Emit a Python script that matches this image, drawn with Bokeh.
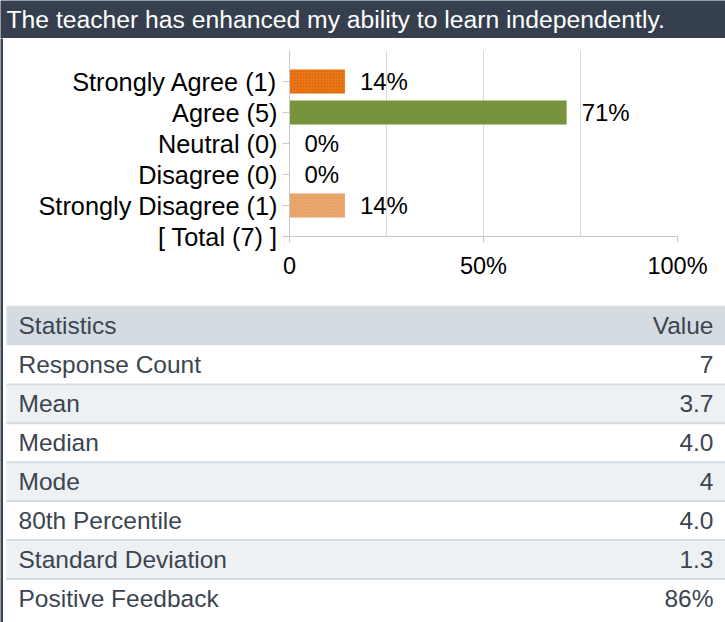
from bokeh.plotting import figure
from bokeh.layouts import column, row
from bokeh.models import Range1d, FixedTicker, ColumnDataSource
from bokeh.embed import file_html
from bokeh.resources import INLINE
from bokeh.core.properties import value

# ---------------- data ----------------
title_text = "The teacher has enhanced my ability to learn independently."
categories = ["Strongly Agree", "Agree", "Neutral", "Disagree", "Strongly Disagree"]
counts = [1, 5, 0, 0, 1]
total_count = 7
bar_colors = ["#e46c0a", "#77933c", "#e46c0a", "#e46c0a", "#e8a268"]
bar_hatch = ["dot", " ", " ", " ", "dot"]
hatch_colors = ["#f3a25e", "#77933c", "#e46c0a", "#e46c0a", "#f0b888"]
x_ticks = [0, 50, 100]
x_tick_labels = ["0", "50%", "100%"]
grid_ticks = [0, 25, 50, 75, 100]
stat_names = ["Response Count", "Mean", "Median", "Mode", "80th Percentile",
              "Standard Deviation", "Positive Feedback"]
stat_values = ["7", "3.7", "4.0", "4", "4.0", "1.3", "86%"]
stat_header = ["Statistics", "Value"]

FONT = value("Liberation Sans")
DARK = "#353f4e"

# ---------------- title bar ----------------
tp = figure(width=725, height=38, x_range=Range1d(0, 725), y_range=Range1d(0, 38),
            x_axis_type=None, y_axis_type=None, output_backend="svg",
            toolbar_location=None, min_border=0)
tp.frame_align = False
tp.background_fill_color = DARK
tp.border_fill_color = DARK
tp.outline_line_color = None
tp.grid.visible = False
tp.text(x=[6], y=[19], text=[title_text], text_color="white",
        text_font=FONT, text_font_size="24.7px", text_baseline="middle", text_align="left")

# ---------------- left strip ----------------
sp = figure(width=3, height=584, x_axis_type=None, y_axis_type=None,
            output_backend="svg", toolbar_location=None, min_border=0)
sp.frame_align = False
sp.background_fill_color = "#3a4452"
sp.border_fill_color = "#3a4452"
sp.outline_line_color = None
sp.grid.visible = False

# ---------------- bar chart ----------------
n = len(categories)
ys = [n - i for i in range(n)]
pcts = [c / total_count * 100 for c in counts]
src = ColumnDataSource(dict(
    y=ys, pct=pcts, color=bar_colors, hatch=bar_hatch, hcol=hatch_colors,
    label=[f"{round(p)}%" for p in pcts],
))

p = figure(width=722, height=267, x_range=Range1d(0, 100), y_range=Range1d(0, n + 1),
           output_backend="svg", toolbar_location=None,
           min_border_left=286, min_border_right=48, min_border_top=12, min_border_bottom=69)
p.frame_align = False
p.outline_line_color = None
p.hbar(y="y", left=0, right="pct", height=0.77, fill_color="color", line_color=None,
       hatch_pattern="hatch", hatch_color="hcol", hatch_scale=3, hatch_alpha=0.6, source=src)
p.text(x="pct", y="y", text="label", x_offset=15, text_baseline="middle",
       text_align="left", text_font=FONT, text_font_size="24px", text_color="black", source=src)

ylabels = {ys[i]: f"{categories[i]} ({counts[i]})" for i in range(n)}
ylabels[0] = f"[ Total ({total_count}) ]"
p.yaxis.ticker = FixedTicker(ticks=list(range(0, n + 1)))
p.yaxis.major_label_overrides = ylabels
p.yaxis.axis_line_color = "#c8c8c8"
p.yaxis.major_tick_line_color = "#c8c8c8"
p.yaxis.major_tick_out = 7
p.yaxis.major_tick_in = 0
p.yaxis.minor_tick_line_color = None
p.yaxis.major_label_standoff = 5
p.yaxis.major_label_text_font = "Liberation Sans"
p.yaxis.major_label_text_font_size = "25.3px"
p.yaxis.major_label_text_color = "black"

p.xaxis.ticker = FixedTicker(ticks=x_ticks)
p.xaxis.major_label_overrides = dict(zip(x_ticks, x_tick_labels))
p.xaxis.axis_line_color = "#c8c8c8"
p.xaxis.major_tick_line_color = "#c8c8c8"
p.xaxis.major_tick_out = 6
p.xaxis.major_tick_in = 0
p.xaxis.minor_tick_line_color = None
p.xaxis.major_label_standoff = 10
p.xaxis.major_label_text_font = "Liberation Sans"
p.xaxis.major_label_text_font_size = "23.5px"
p.xaxis.major_label_text_color = "black"

p.xgrid.ticker = FixedTicker(ticks=grid_ticks)
p.xgrid.grid_line_color = "#d9d9d9"
p.ygrid.grid_line_color = None

# ---------------- statistics table ----------------
TW, TH = 722, 317
HEAD_H, ROW_H = 40, 38.9
tb = figure(width=TW, height=TH, x_range=Range1d(0, TW), y_range=Range1d(TH, 0),
            x_axis_type=None, y_axis_type=None, output_backend="svg",
            toolbar_location=None, min_border=0)
tb.frame_align = False
tb.outline_line_color = None
tb.grid.visible = False

tb.quad(left=[3], right=[TW], top=[0], bottom=[HEAD_H], fill_color="#d5dce1", line_color=None)
m = len(stat_names)
tops = [HEAD_H + i * ROW_H for i in range(m)]
bots = [t + ROW_H for t in tops]
fills = ["#ffffff" if i % 2 == 0 else "#edf1f4" for i in range(m)]
tb.quad(left=[3] * m, right=[TW] * m, top=tops, bottom=bots, fill_color=fills, line_color=None)
tb.segment(x0=[3] * (m - 1), x1=[TW] * (m - 1), y0=tops[1:], y1=tops[1:],
           line_color="#d3dbe0", line_width=2)

centers = [(t + b) / 2 for t, b in zip(tops, bots)]
TXT = "#3b4550"
TFS = "24.5px"
VX = TW - 12
tb.text(x=[15], y=[HEAD_H / 2], text=[stat_header[0]], text_baseline="middle", text_align="left",
        text_font=FONT, text_font_size=TFS, text_color=TXT)
tb.text(x=[VX], y=[HEAD_H / 2], text=[stat_header[1]], text_baseline="middle", text_align="right",
        text_font=FONT, text_font_size=TFS, text_color=TXT)
tb.text(x=[15] * m, y=centers, text=stat_names, text_baseline="middle", text_align="left",
        text_font=FONT, text_font_size=TFS, text_color=TXT)
tb.text(x=[VX] * m, y=centers, text=stat_values, text_baseline="middle", text_align="right",
        text_font=FONT, text_font_size=TFS, text_color=TXT)

layout = column(tp, row(sp, column(p, tb)))
open("out.html", "w").write(file_html(layout, INLINE))
